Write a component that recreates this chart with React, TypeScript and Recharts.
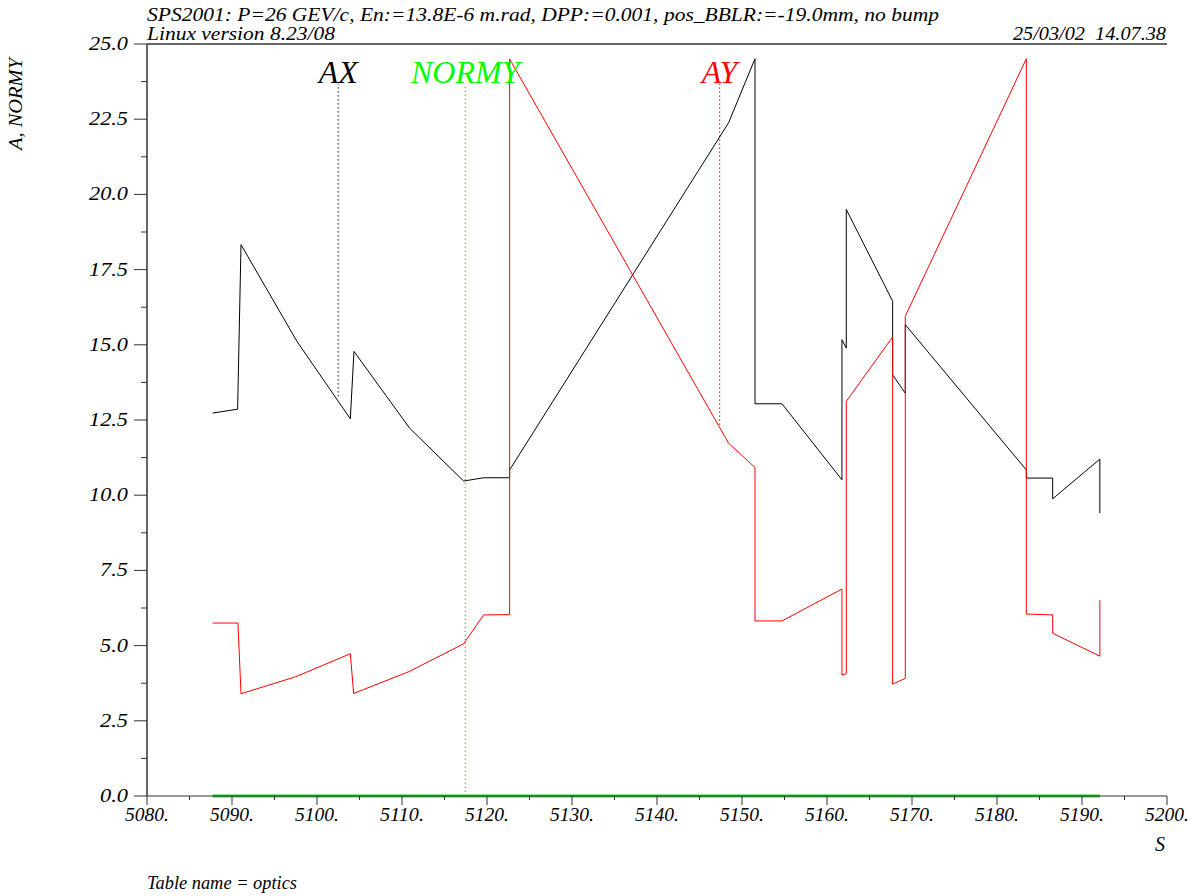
import React from 'react';
import { LineChart, Line, XAxis, YAxis } from 'recharts';

// ---- data ----
const S_AX = [5087.72, 5090.66, 5091.06, 5097.65, 5103.92, 5104.35, 5110.89, 5117.25, 5119.6, 5122.66, 5122.66, 5148.42, 5151.53, 5151.53, 5154.7, 5161.76, 5161.76, 5162.27, 5162.27, 5167.72, 5167.72, 5169.21, 5169.21, 5183.45, 5183.45, 5186.55, 5186.55, 5192.1, 5192.1];
const AX = [12.73, 12.86, 18.33, 15.11, 12.54, 14.78, 12.23, 10.47, 10.58, 10.58, 10.84, 22.38, 24.51, 13.04, 13.04, 10.51, 15.17, 14.89, 19.5, 16.45, 14.0, 13.39, 15.67, 10.84, 10.57, 10.57, 9.88, 11.2, 9.4];

const S_AY = [5087.72, 5090.7, 5091.06, 5097.45, 5103.92, 5104.31, 5110.78, 5117.25, 5119.6, 5122.66, 5122.66, 5148.42, 5151.53, 5151.53, 5154.7, 5161.76, 5161.76, 5162.27, 5162.27, 5167.72, 5167.72, 5169.21, 5169.21, 5183.45, 5183.45, 5186.55, 5186.55, 5192.1, 5192.1];
const AY = [5.75, 5.75, 3.4, 3.96, 4.73, 3.41, 4.13, 5.06, 6.02, 6.03, 24.5, 11.73, 10.92, 5.82, 5.82, 6.88, 4.02, 4.07, 13.12, 15.26, 3.72, 3.91, 15.95, 24.51, 6.05, 6.02, 5.41, 4.65, 6.51];

const S_NORMY = [5087.72, 5192.1];
const NORMY = [0, 0];

// marker (dotted) lines with their labels: position s, bottom value, top value
const MARK_NAMES = ['AX', 'NORMY', 'AY'];
const MARK_S = [5102.5, 5117.44, 5147.36];
const MARK_LOW = [13.28, 0, 12.34];
const MARK_HIGH = [23.68, 23.68, 23.68];
const MARK_COLORS = ['#000000', '#00ff00', '#ff0000'];
const MARK_DOT_COLORS = ['#333333', '#00ff00', '#ff0000'];

const X_TICKS = Array.from({ length: 25 }, (_, i) => 5080 + i * 5);
const Y_TICKS = Array.from({ length: 21 }, (_, i) => i * 1.25);

const TITLE1 = 'SPS2001: P=26 GEV/c, En:=13.8E-6 m.rad, DPP:=0.001, pos_BBLR:=-19.0mm, no bump';
const TITLE2 = 'Linux version 8.23/08';
const DATE = '25/03/02  14.07.38';
const X_LABEL = 'S';
const Y_LABEL = 'A, NORMY';
const FOOTER = 'Table name = optics';

const toPts = (s: number[], v: number[]) => s.map((x, i) => ({ s: x, v: v[i] }));
const axData = toPts(S_AX, AX);
const ayData = toPts(S_AY, AY);
const nyData = toPts(S_NORMY, NORMY);
const markData = MARK_S.map((s, i) => [
  { s, v: MARK_LOW[i] },
  { s, v: MARK_HIGH[i] },
]);

const FONT = '"Liberation Serif", "Times New Roman", serif';
const AXIS_COLOR = '#333';

const BottomTick = (props: any) => {
  const { x, y, payload } = props;
  const v = payload.value;
  const major = Math.round(v) % 10 === 0;
  return (
    <g>
      <line x1={x} x2={x} y1={y} y2={y + (major ? 9 : 4)} stroke={AXIS_COLOR} strokeWidth={1} />
      {major && (
        <text x={x} y={y + 25} textAnchor="middle" fontFamily={FONT} fontStyle="italic" fontSize={19} fill="#000"
          textLength={44} lengthAdjust="spacingAndGlyphs">{`${Math.round(v)}.`}</text>
      )}
    </g>
  );
};

const TopTick = (props: any) => {
  const { x, y, payload } = props;
  const v = payload.value;
  const major = Math.round(v) % 10 === 0;
  return <line x1={x} x2={x} y1={y} y2={y + (major ? 9 : 4)} stroke={AXIS_COLOR} strokeWidth={1} />;
};

const LeftTick = (props: any) => {
  const { x, y, payload } = props;
  const v = payload.value;
  const major = Math.abs(v / 2.5 - Math.round(v / 2.5)) < 1e-6;
  const label = v.toFixed(1);
  const len = label.length === 4 ? 39 : 28;
  return (
    <g>
      <line x1={x} x2={x - (major ? 13 : 6)} y1={y} y2={y} stroke={AXIS_COLOR} strokeWidth={1} />
      {major && (
        <text x={x - 19} y={y + 6} textAnchor="end" fontFamily={FONT} fontStyle="italic" fontSize={19} fill="#000"
          textLength={len} lengthAdjust="spacingAndGlyphs">{label}</text>
      )}
    </g>
  );
};

const markLabel = (name: string, color: string) => (props: any) => {
  const { x, y, index } = props;
  if (index !== 1) return <g />;
  return (
    <text x={x} y={y - 1} textAnchor="middle" fontFamily={FONT} fontStyle="italic" fontSize={32} fill={color}>{name}</text>
  );
};

export default function App() {
  return (
    <div style={{ position: 'relative', width: 1201, height: 896, background: '#fff' }}>
      <style>{`body{margin:0;background:#fff}`}</style>
      <LineChart width={1201} height={896} margin={{ top: 34, right: 34, bottom: 60, left: 87 }}>
        <XAxis xAxisId="bottom" dataKey="s" type="number" domain={[5080, 5200]} ticks={X_TICKS} interval={0}
          orientation="bottom" height={40} tickSize={0} tickMargin={0} tickLine={false}
          axisLine={{ stroke: AXIS_COLOR, strokeWidth: 1 }} tick={<BottomTick />} />
        <XAxis xAxisId="top" dataKey="s" type="number" domain={[5080, 5200]} ticks={X_TICKS} interval={0}
          orientation="top" height={10} tickSize={0} tickMargin={0} tickLine={false}
          axisLine={{ stroke: AXIS_COLOR, strokeWidth: 1.5 }} tick={<TopTick />} />
        <YAxis dataKey="v" type="number" domain={[0, 25]} ticks={Y_TICKS} interval={0} width={60}
          tickSize={0} tickMargin={0} tickLine={false} axisLine={{ stroke: AXIS_COLOR, strokeWidth: 1.5 }}
          tick={<LeftTick />} />
        {markData.map((d, i) => (
          <Line key={MARK_NAMES[i]} xAxisId="bottom" data={d} dataKey="v" stroke={MARK_DOT_COLORS[i]} strokeWidth={1.3}
            strokeDasharray="1.3 2.7" dot={false} isAnimationActive={false}
            label={markLabel(MARK_NAMES[i], MARK_COLORS[i])} />
        ))}
        <Line xAxisId="bottom" data={axData} dataKey="v" stroke="#000" strokeWidth={1} dot={false}
          isAnimationActive={false} type="linear" />
        <Line xAxisId="bottom" data={ayData} dataKey="v" stroke="#ff0000" strokeWidth={1} dot={false}
          isAnimationActive={false} type="linear" />
        <Line xAxisId="bottom" data={nyData} dataKey="v" stroke="#22d022" strokeWidth={3} dot={false}
          isAnimationActive={false} type="linear" />
      </LineChart>
      <svg width={1201} height={896} style={{ position: 'absolute', left: 0, top: 0, pointerEvents: 'none' }}>
        <g fontFamily={FONT} fontStyle="italic" fill="#000">
          <text x={147} y={21} fontSize={19} textLength={792} lengthAdjust="spacingAndGlyphs">{TITLE1}</text>
          <text x={147} y={40} fontSize={19} textLength={188} lengthAdjust="spacingAndGlyphs">{TITLE2}</text>
          <text x={1166} y={40} fontSize={19} textAnchor="end" textLength={153} lengthAdjust="spacingAndGlyphs"
            style={{ whiteSpace: 'pre' }}>{DATE}</text>
          <text x={1160} y={851} fontSize={20} textAnchor="middle">{X_LABEL}</text>
          <text x={0} y={0} fontSize={18} textAnchor="middle" textLength={92} lengthAdjust="spacingAndGlyphs"
            transform="translate(22,104) rotate(-90)">{Y_LABEL}</text>
          <text x={147} y={889} fontSize={19} textLength={150} lengthAdjust="spacingAndGlyphs">{FOOTER}</text>
        </g>
      </svg>
    </div>
  );
}
